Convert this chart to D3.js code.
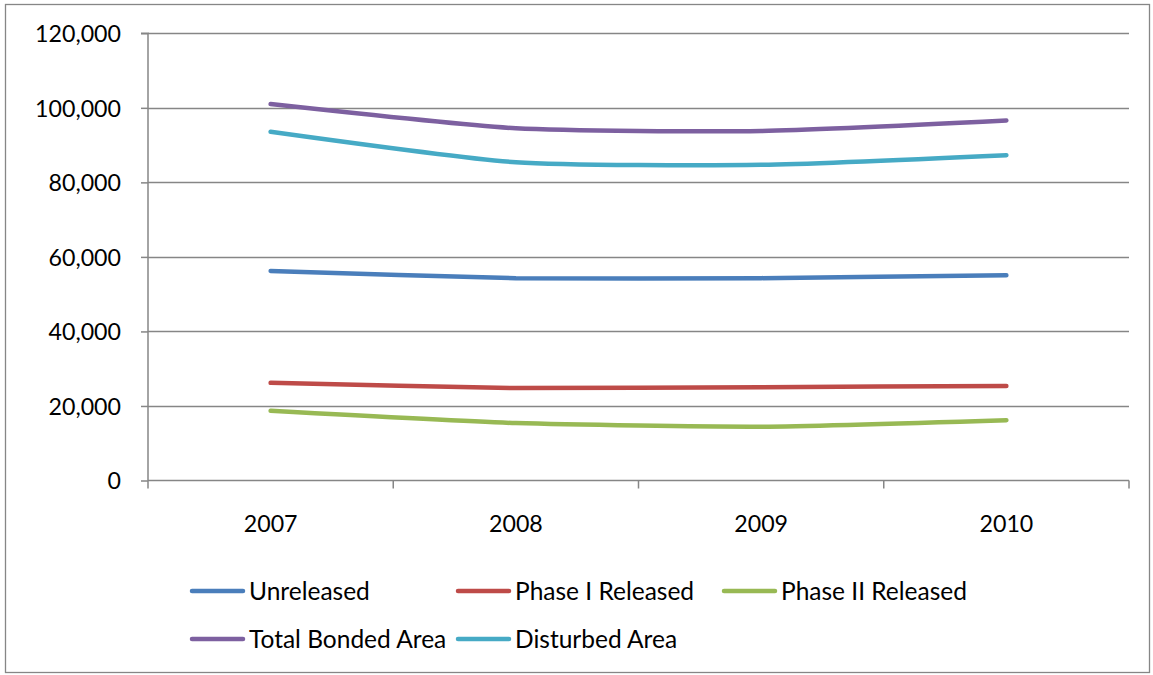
<!DOCTYPE html>
<html><head><meta charset="utf-8">
<script src="https://cdn.jsdelivr.net/npm/d3@7"></script>
<style>body{margin:0;background:#fff}svg{display:block}text{font-family:Lato,"Open Sans",sans-serif;fill:#000}</style>
</head><body><svg id="c" width="1153" height="675"></svg>
<script>
const years = ["2007","2008","2009","2010"];
const unreleased = [56200, 54300, 54300, 55100];
const phase1 = [26200, 24800, 25050, 25350];
const phase2 = [18700, 15400, 14450, 16200];
const totalBonded = [101000, 94500, 93800, 96600];
const disturbed = [93600, 85400, 84700, 87300];
const seriesNames = ["Unreleased","Phase I Released","Phase II Released","Total Bonded Area","Disturbed Area"];
const seriesColors = ["#4A7EBB","#BE4B48","#98B954","#7D60A0","#46AAC5"];
const yTicks = [0,20000,40000,60000,80000,100000,120000];

const seriesValues = [unreleased, phase1, phase2, totalBonded, disturbed];
const svg = d3.select("#c");
const L=148, R=1129, T=33.3, B=480.5;
const x = d3.scaleBand().domain(years).range([L,R]);
const y = d3.scaleLinear().domain([0,120000]).range([B,T]);
const grey="#868686";

svg.append("rect").attr("x",5.5).attr("y",4.5).attr("width",1144).attr("height",668)
  .attr("fill","none").attr("stroke",grey).attr("stroke-width",1.3);

svg.append("g").selectAll("line").data(yTicks.filter(d=>d>0)).join("line")
  .attr("x1",L).attr("x2",R).attr("y1",d=>Math.round(y(d))+0.5).attr("y2",d=>Math.round(y(d))+0.5)
  .attr("stroke",grey).attr("stroke-width",1.5);

const fmt = d3.format(",");
const ya = svg.append("g").attr("transform",`translate(${L},0)`)
  .call(d3.axisLeft(y).tickValues(yTicks).tickSize(7).tickPadding(20).tickFormat(d=>fmt(d)));
ya.select(".domain").attr("stroke",grey).attr("stroke-width",1.5).attr("d",`M-7,${T}H0V${B}`);
ya.selectAll(".tick line").attr("stroke",grey).attr("stroke-width",1.5);
ya.selectAll(".tick text").attr("font-family","Lato").attr("font-size",23.2).attr("fill","#000").attr("dy","0.36em");

const xa = svg.append("g").attr("transform",`translate(0,${B})`)
  .call(d3.axisBottom(x).tickSize(0).tickPadding(35));
xa.select(".domain").attr("stroke",grey).attr("stroke-width",1.5).attr("d",`M${L},0H${R}`);
xa.selectAll(".tick text").attr("font-family","Lato").attr("font-size",23.2).attr("fill","#000");
const bounds = years.map(d=>x(d)).concat([R]);
svg.append("g").selectAll("line").data(bounds).join("line")
  .attr("x1",d=>d).attr("x2",d=>d).attr("y1",B).attr("y2",B+8)
  .attr("stroke",grey).attr("stroke-width",1.5);

const line = d3.line().x((d,i)=>x(years[i])+x.bandwidth()/2).y(d=>y(d)).curve(d3.curveCardinal.tension(0.4));
svg.append("g").selectAll("path").data(d3.range(seriesValues.length)).join("path")
  .attr("d",i=>line(seriesValues[i])).attr("fill","none")
  .attr("stroke",i=>seriesColors[i]).attr("stroke-width",4.5).attr("stroke-linecap","round").attr("stroke-linejoin","round");

const legPos = [[190,591],[456,591],[722,591],[190,639],[456,639]];
const lg = svg.append("g").selectAll("g").data(seriesNames).join("g")
  .attr("transform",(d,i)=>`translate(${legPos[i][0]},${legPos[i][1]})`);
lg.append("line").attr("x1",2).attr("x2",53).attr("y1",0).attr("y2",0)
  .attr("stroke",(d,i)=>seriesColors[i]).attr("stroke-width",4.5).attr("stroke-linecap","round");
lg.append("text").attr("x",59).attr("y",0).attr("dy","0.36em").attr("font-size",24.5).text(d=>d);
</script></body></html>
